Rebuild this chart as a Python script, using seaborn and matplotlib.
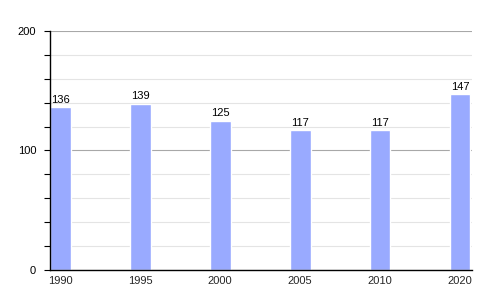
import matplotlib
matplotlib.use("Agg")
import matplotlib.pyplot as plt
import seaborn as sns
import pandas as pd
from matplotlib.ticker import MultipleLocator

years = ["1990", "1995", "2000", "2005", "2010", "2020"]
values = [136, 139, 125, 117, 117, 147]

df = pd.DataFrame({"year": years, "value": values})

sns.set_style("white")
plt.rcParams['font.family'] = ['Liberation Sans', 'DejaVu Sans']

fig = plt.figure(figsize=(5, 3), dpi=100)
ax = fig.add_axes([0.1, 0.1, 0.844, 0.7967])

sns.barplot(data=df, x="year", y="value", color="#99aaff", width=0.26,
            saturation=1, ax=ax, zorder=3)

ax.set_ylim(0, 200)
ax.set_xlim(-0.13, 5.15)
ax.yaxis.set_major_locator(MultipleLocator(100))
ax.yaxis.set_minor_locator(MultipleLocator(20))
ax.grid(which="minor", axis="y", color="#e4e4e4", linewidth=0.8, zorder=0)
ax.grid(which="major", axis="y", color="#a8a8a8", linewidth=0.8, zorder=1)
ax.set_axisbelow(True)

for s in ["top", "right"]:
    ax.spines[s].set_visible(False)
for s in ["left", "bottom"]:
    ax.spines[s].set_color("black")
    ax.spines[s].set_linewidth(1.0)
    ax.spines[s].set_zorder(5)

ax.tick_params(axis="y", which="major", left=True, length=4, width=0.8,
               labelsize=8, colors="black", pad=6)
ax.tick_params(axis="y", which="minor", left=True, length=4, width=0.8, colors="black")
ax.tick_params(axis="x", bottom=False, labelsize=8, pad=1)

for i, v in enumerate(values):
    ax.text(i, v + 2, str(v), ha="center", va="bottom", fontsize=8, color="black")

ax.set_xlabel("")
ax.set_ylabel("")

fig.savefig("out.png", dpi=100)
